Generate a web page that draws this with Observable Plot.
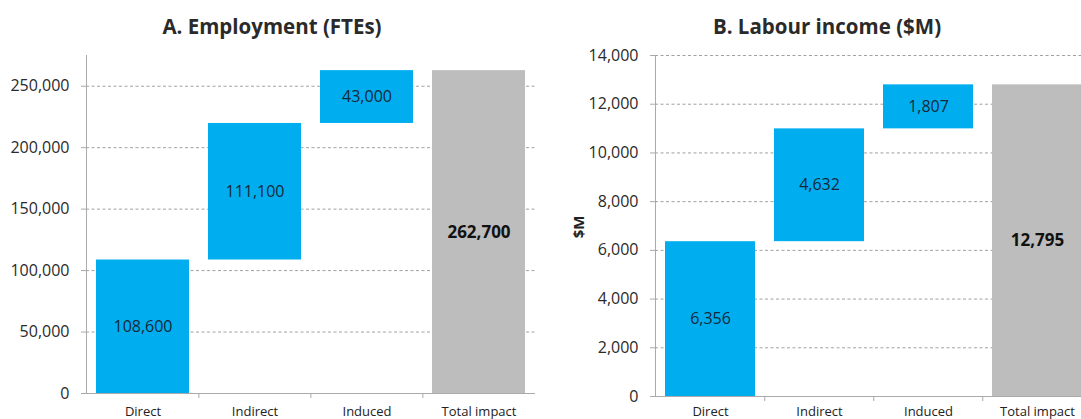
<!DOCTYPE html>
<html><head><meta charset="utf-8">
<script src="https://cdn.jsdelivr.net/npm/d3@7"></script>
<script src="https://cdn.jsdelivr.net/npm/@observablehq/plot@0.6"></script>
<style>
html,body{margin:0;padding:0;overflow:hidden;background:#fff;}
#wrap{position:relative;width:1081px;height:419px;overflow:hidden;font-family:"Open Sans",sans-serif;background:#fff;}
.title{position:absolute;top:16px;font-weight:700;font-size:20.5px;line-height:21px;color:#2a2a2a;transform:translateX(-50%);white-space:nowrap;}
.panel{position:absolute;top:0;}
#ylab{position:absolute;left:578px;top:227px;transform:translate(-50%,-50%) rotate(-90deg);font-weight:700;font-size:15px;color:#222;white-space:nowrap;}
</style></head>
<body>
<div id="wrap">
  <div class="title" id="tA" style="left:272px"></div>
  <div class="title" id="tB" style="left:827px"></div>
  <div class="panel" id="pA" style="left:0;width:540px"></div>
  <div class="panel" id="pB" style="left:540px;width:553px"></div>
  <div id="ylab"></div>
</div>
<script>
// ---- data ----
const categories = ["Direct", "Indirect", "Induced", "Total impact"];
const employmentValues = [108600, 111100, 43000, 262700];
const incomeValues = [6356, 4632, 1807, 12795];
const employmentTicks = [0, 50000, 100000, 150000, 200000, 250000];
const incomeTicks = [0, 2000, 4000, 6000, 8000, 10000, 12000, 14000];
const titleA = "A. Employment (FTEs)";
const titleB = "B. Labour income ($M)";
const incomeAxisLabel = "$M";

document.getElementById("tA").textContent = titleA;
document.getElementById("tB").textContent = titleB;
document.getElementById("ylab").textContent = incomeAxisLabel;

const fmt = d3.format(",");

function waterfall(values) {
  let run = 0;
  return values.map((v, i) => {
    const isTotal = i === values.length - 1;
    const y1 = isTotal ? 0 : run;
    const y2 = isTotal ? v : run + v;
    if (!isTotal) run += v;
    return {cat: categories[i], value: v, y1, y2, total: isTotal};
  });
}

function panel({values, ticks, yMax, width, height, ml, mr, mt, mb, xPad}) {
  const data = waterfall(values);
  const pIn = 0.17, pOut = 0.085;
  const step = (width - ml - mr) / (categories.length - pIn + 2 * pOut);
  return Plot.plot({
    width, height,
    marginLeft: ml, marginRight: mr, marginTop: mt, marginBottom: mb,
    style: {fontFamily: "Open Sans, sans-serif", fontSize: "15px", background: "transparent", overflow: "visible"},
    x: {domain: categories, paddingInner: pIn, paddingOuter: pOut},
    y: {domain: [0, yMax]},
    marks: [
      Plot.ruleY(ticks.filter(t => t > 0), {stroke: "#a0a0a0", strokeDasharray: "3,2.5", strokeWidth: 1}),
      Plot.barY(data.filter(d => !d.total), {x: "cat", y1: "y1", y2: "y2", fill: "#00aeef"}),
      Plot.barY(data.filter(d => d.total), {x: "cat", y1: "y1", y2: "y2", fill: "#bdbdbd"}),
      Plot.frame({anchor: "left", stroke: "#aaaaaa"}),
      Plot.ruleY([0], {stroke: "#aaaaaa"}),
      Plot.ruleX(categories.slice(1), {x: d => d, y1: 0, y2: 0, insetBottom: -5, dx: -step / 2, stroke: "#aaaaaa"}),
      Plot.axisY(ticks, {tickSize: 5, tickPadding: 12, tickFormat: fmt, stroke: "#aaaaaa", fill: "#2a2a2a", fontSize: 16, label: null}),
      Plot.axisX({tickSize: 0, tickPadding: xPad, fill: "#222", fontSize: 13, label: null}),
      Plot.text(data.filter(d => !d.total), {x: "cat", y: d => (d.y1 + d.y2) / 2, text: d => fmt(d.value), fill: "#16283a", fontSize: 16}),
      Plot.text(data.filter(d => d.total), {x: "cat", y: d => (d.y1 + d.y2) / 2, text: d => fmt(d.value), fill: "#111", fontSize: 17, fontWeight: "bold"})
    ]
  });
}

document.getElementById("pA").append(panel({
  values: employmentValues, ticks: employmentTicks, yMax: 275000,
  width: 540, height: 419, ml: 86, mr: 5, mt: 55, mb: 26, xPad: 13
}));
document.getElementById("pB").append(panel({
  values: incomeValues, ticks: incomeTicks, yMax: 14000,
  width: 553, height: 419, ml: 115, mr: 0, mt: 55, mb: 23, xPad: 10
}));
</script>
</body></html>
